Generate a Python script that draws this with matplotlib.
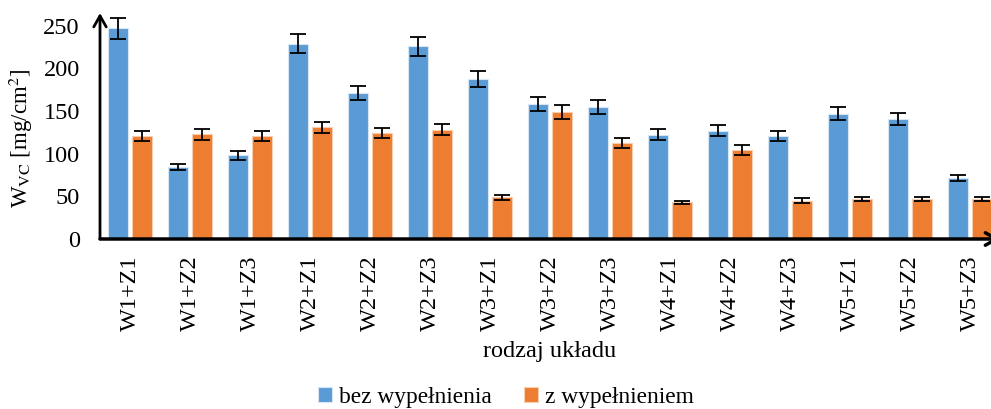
import numpy as np
import matplotlib
matplotlib.use("Agg")
import matplotlib.pyplot as plt

plt.rcParams['font.family'] = ['Liberation Serif', 'DejaVu Serif']
plt.rcParams['mathtext.fontset'] = 'stix'

# dane
uklady = ['W1+Z1', 'W1+Z2', 'W1+Z3', 'W2+Z1', 'W2+Z2', 'W2+Z3', 'W3+Z1', 'W3+Z2',
          'W3+Z3', 'W4+Z1', 'W4+Z2', 'W4+Z3', 'W5+Z1', 'W5+Z2', 'W5+Z3']
bez = [247, 84.5, 98, 229, 171, 226, 188, 158, 155, 122.5, 127, 121, 147, 141, 71]
bez_err = [12, 4, 5, 11, 8.5, 11, 9.5, 8, 8, 6.5, 6.5, 6, 7.5, 7, 3.5]
z_wyp = [121, 123, 121, 131, 124, 128, 49, 149, 112.5, 43, 104, 45, 47, 47, 47]
z_wyp_err = [6, 6.5, 6, 6.5, 6, 6.5, 3, 8, 6, 2, 6, 2.5, 2.5, 2.5, 2.5]

niebieski = '#5B9BD5'
pomaranczowy = '#ED7D31'

fig = plt.figure(figsize=(9.91, 4.09), dpi=100)
ax = fig.add_axes([100/991, 170/409, 900/991, 226/409])

x = np.arange(len(uklady))
w = 0.333
off = 0.208
err_kw = dict(ecolor='black', elinewidth=1.3, capsize=6, capthick=1.3)

ax.bar(x - off, bez, w, color=niebieski, edgecolor='#d6e6f5', linewidth=0.8,
       yerr=bez_err, error_kw=err_kw, label='bez wypełnienia')
ax.bar(x + off, z_wyp, w, color=pomaranczowy, edgecolor='#f8cdb0', linewidth=0.8,
       yerr=z_wyp_err, error_kw=err_kw, label='z wypełnieniem')

ax.set_xlim(-0.5, 14.5)
ax.set_ylim(0, 265)
ax.set_yticks([0, 50, 100, 150, 200, 250])
ax.set_xticks(x)
ax.set_xticklabels(uklady, rotation=90, fontsize=17.5)
ax.tick_params(axis='y', length=0, pad=14.5, labelsize=17.5)
ax.tick_params(axis='x', length=0, pad=12)

for s in ['top', 'right', 'left', 'bottom']:
    ax.spines[s].set_visible(False)

# osie ze strzalkami
ax.annotate('', xy=(0, 1.0), xytext=(0, 0), xycoords='axes fraction',
            arrowprops=dict(arrowstyle='->,head_width=0.45,head_length=0.8',
                            lw=2, color='black', shrinkA=0, shrinkB=0))
ax.annotate('', xy=(1.0, 0), xytext=(0, 0), xycoords='axes fraction',
            arrowprops=dict(arrowstyle='->,head_width=0.45,head_length=0.8',
                            lw=2.5, color='black', shrinkA=0, shrinkB=0))

fig.text(21/991, 1 - 138/409, r'W$_{\mathrm{VC}}$ [mg/cm$^{2}$]', rotation=90,
         ha='center', va='center', fontsize=16.5)
fig.text(550/991, 1 - 352/409, 'rodzaj układu', ha='center', va='center', fontsize=17.5)

fig.legend(loc='center', bbox_to_anchor=(506/991, 1 - 397/409), ncol=2, frameon=False,
           fontsize=16.8, handlelength=0.6, handleheight=0.6, handletextpad=0.3,
           columnspacing=1.4)

fig.savefig('out.png', dpi=100)
